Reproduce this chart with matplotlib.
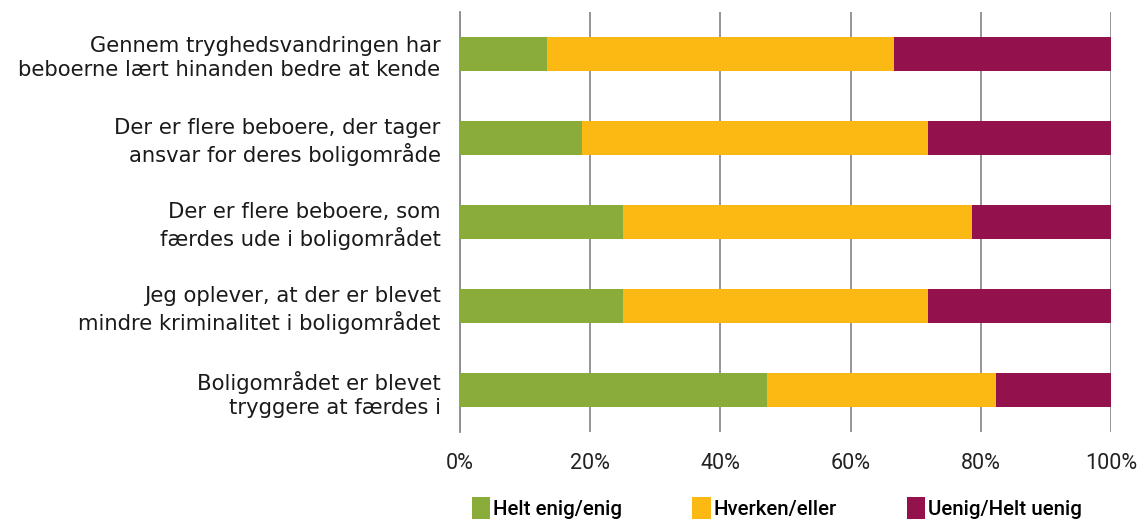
import matplotlib
matplotlib.use("Agg")
import matplotlib.pyplot as plt
import numpy as np

categories = [
    "Gennem tryghedsvandringen har\nbeboerne lært hinanden bedre at kende",
    "Der er flere beboere, der tager\nansvar for deres boligområde",
    "Der er flere beboere, som\nfærdes ude i boligområdet",
    "Jeg oplever, at der er blevet\nmindre kriminalitet i boligområdet",
    "Boligområdet er blevet\ntryggere at færdes i",
]
enig = [13.3, 18.75, 25.0, 25.0, 47.1]
hverken = [53.4, 53.1, 53.6, 46.9, 35.3]
uenig = [33.3, 28.15, 21.4, 28.1, 17.6]
series_names = ["Helt enig/enig", "Hverken/eller", "Uenig/Helt uenig"]
colors = ["#8aac3a", "#fdb913", "#93124e"]
xticks = [0, 20, 40, 60, 80, 100]

plt.rcParams["font.family"] = ["Roboto", "DejaVu Sans"]

fig = plt.figure(figsize=(11.44, 5.29), dpi=100)
ax = fig.add_axes([460 / 1144, 1 - 432 / 529, 651 / 1144, 420 / 529])

y = np.arange(len(categories))
left = np.zeros(len(categories))
handles = []
for vals, name, c in zip([enig, hverken, uenig], series_names, colors):
    h = ax.barh(y, vals, left=left, height=0.4, color=c, label=name, zorder=3)
    handles.append(h)
    left += np.array(vals)

ax.set_xlim(0, 100)
ax.set_ylim(len(categories) - 0.5, -0.5)
ax.set_xticks(xticks)
ax.set_xticklabels([f"{v}%" for v in xticks], fontsize=15.5, color="#222222")
ax.set_yticks(y)
ax.set_yticklabels(categories, fontsize=15.2, color="#1a1a1a", linespacing=1.25,
                   family=["DejaVu Sans"])
ax.tick_params(axis="both", length=0)
ax.tick_params(axis="x", pad=15)
ax.tick_params(axis="y", pad=14)
ax.grid(axis="x", color="#8c8c8c", linewidth=1.3, zorder=0)
for s in ["top", "right", "bottom"]:
    ax.spines[s].set_visible(False)
ax.spines["left"].set_color("#8c8c8c")
ax.spines["left"].set_linewidth(1.3)

fig.legend(handles=handles, labels=series_names, loc="upper center",
           bbox_to_anchor=(777 / 1144, 1 - 497 / 529), ncol=3, frameon=False,
           handlelength=0.9, handleheight=1.3, handletextpad=0.15,
           columnspacing=3.4, borderaxespad=0, borderpad=0,
           prop={"size": 14.8, "weight": "medium"})

fig.savefig("out.png", dpi=100)
